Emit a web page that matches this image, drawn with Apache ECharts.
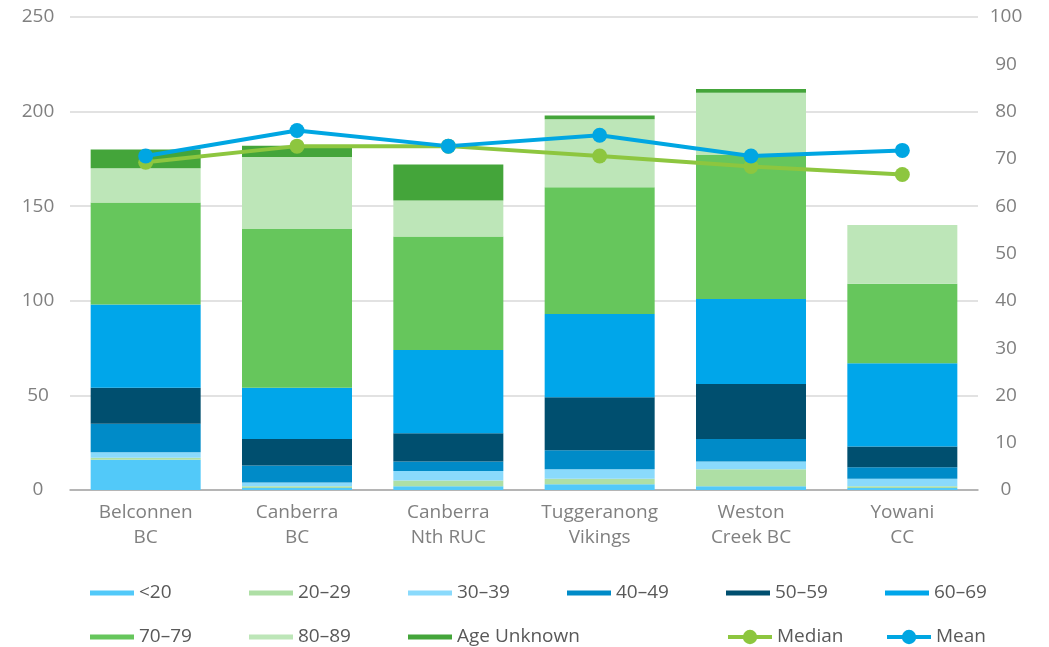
<!DOCTYPE html>
<html>
<head>
<meta charset="utf-8">
<title>Club membership by age group</title>
<script src="https://cdn.jsdelivr.net/npm/echarts@6/dist/echarts.min.js"></script>
<style>
  html, body { margin: 0; padding: 0; background: #ffffff; }
  #chart { width: 1049px; height: 647px; }
</style>
</head>
<body>
<div id="chart"></div>
<script>
// Clubs shown along the x axis
const clubs = ['Belconnen\nBC', 'Canberra\nBC', 'Canberra\nNth RUC', 'Tuggeranong\nVikings', 'Weston\nCreek BC', 'Yowani\nCC'];

// Member counts per age group (left axis)
const ageUnder20   = [16, 1, 2, 3, 2, 1];
const age20to29    = [1, 1, 3, 3, 9, 1];
const age30to39    = [3, 2, 5, 5, 4, 4];
const age40to49    = [15, 9, 5, 10, 12, 6];
const age50to59    = [19, 14, 15, 28, 29, 11];
const age60to69    = [44, 27, 44, 44, 45, 44];
const age70to79    = [54, 84, 60, 67, 76, 42];
const age80to89    = [18, 38, 19, 36, 33, 31];
const ageUnknown   = [10, 6, 19, 2, 2, 0];

// Member ages (right axis)
const medianAge = [69.3, 72.7, 72.7, 70.6, 68.4, 66.7];
const meanAge   = [70.6, 76.0, 72.7, 75.0, 70.6, 71.8];

// Axis ticks
const leftTicks  = { min: 0, max: 250, interval: 50 };
const rightTicks = { min: 0, max: 100, interval: 10 };

const FONT = '"Open Sans", "Noto Sans", sans-serif';

const barGroups = [
  { name: '<20',         data: ageUnder20, color: '#52C9F9' },
  { name: '20–29',       data: age20to29,  color: '#AEDFA5' },
  { name: '30–39',       data: age30to39,  color: '#8ADAFC' },
  { name: '40–49',       data: age40to49,  color: '#008BC8' },
  { name: '50–59',       data: age50to59,  color: '#004F6F' },
  { name: '60–69',       data: age60to69,  color: '#00A6EA' },
  { name: '70–79',       data: age70to79,  color: '#66C65C' },
  { name: '80–89',       data: age80to89,  color: '#BDE6B8' },
  { name: 'Age Unknown', data: ageUnknown, color: '#44A53A' }
];
const lineGroups = [
  { name: 'Median', data: medianAge, color: '#8DC63F' },
  { name: 'Mean',   data: meanAge,   color: '#00A6E2' }
];

const series = barGroups.map(g => ({
  name: g.name,
  type: 'bar',
  stack: 'members',
  barWidth: 110,
  data: g.data,
  itemStyle: { color: g.color },
  emphasis: { disabled: true }
})).concat(lineGroups.map(g => ({
  name: g.name,
  type: 'line',
  yAxisIndex: 1,
  data: g.data,
  symbol: 'circle',
  symbolSize: 15,
  lineStyle: { width: 4, color: g.color },
  itemStyle: { color: g.color },
  emphasis: { disabled: true },
  z: 5
})));

// Legend laid out as a 6-column grid, one slot per entry
const legendSlots = [
  ['<20', 0, 0], ['20–29', 1, 0], ['30–39', 2, 0], ['40–49', 3, 0], ['50–59', 4, 0], ['60–69', 5, 0],
  ['70–79', 0, 1], ['80–89', 1, 1], ['Age Unknown', 2, 1], ['Median', 4, 1], ['Mean', 5, 1]
];
const colX = [90, 249, 408, 567, 726, 885];
const rowY = [593, 637];
const legends = legendSlots.map(([name, c, r]) => {
  const isLine = name === 'Median' || name === 'Mean';
  return {
    data: [isLine ? { name } : { name, icon: 'rect' }],
    left: colX[c],
    top: rowY[r] - 10,
    padding: 0,
    itemWidth: 44,
    itemHeight: isLine ? 18 : 5,
    lineStyle: { width: 4 },
    selectedMode: false,
    textStyle: { fontFamily: FONT, fontSize: 19, color: '#595959', lineHeight: 20 }
  };
});

const chart = echarts.init(document.getElementById('chart'), null, { renderer: 'canvas' });
chart.setOption({
  animation: false,
  backgroundColor: '#ffffff',
  grid: { left: 70, right: 71, top: 17, bottom: 157, containLabel: false },
  legend: legends,
  xAxis: {
    type: 'category',
    data: clubs,
    axisTick: { show: false },
    axisLine: { lineStyle: { color: '#a6a6a6', width: 1.5 } },
    axisLabel: {
      fontFamily: FONT, fontSize: 19, color: '#808080',
      lineHeight: 25, margin: 10, interval: 0
    }
  },
  yAxis: [
    {
      type: 'value',
      min: leftTicks.min, max: leftTicks.max, interval: leftTicks.interval,
      axisLine: { show: false },
      axisTick: { show: false },
      splitLine: { lineStyle: { color: '#d9d9d9', width: 1.5 } },
      axisLabel: { fontFamily: FONT, fontSize: 19, color: '#808080', align: 'center', margin: 32 }
    },
    {
      type: 'value',
      min: rightTicks.min, max: rightTicks.max, interval: rightTicks.interval,
      axisLine: { show: false },
      axisTick: { show: false },
      splitLine: { show: false },
      axisLabel: { fontFamily: FONT, fontSize: 19, color: '#808080', align: 'center', margin: 28 }
    }
  ],
  series: series
});
</script>
</body>
</html>
